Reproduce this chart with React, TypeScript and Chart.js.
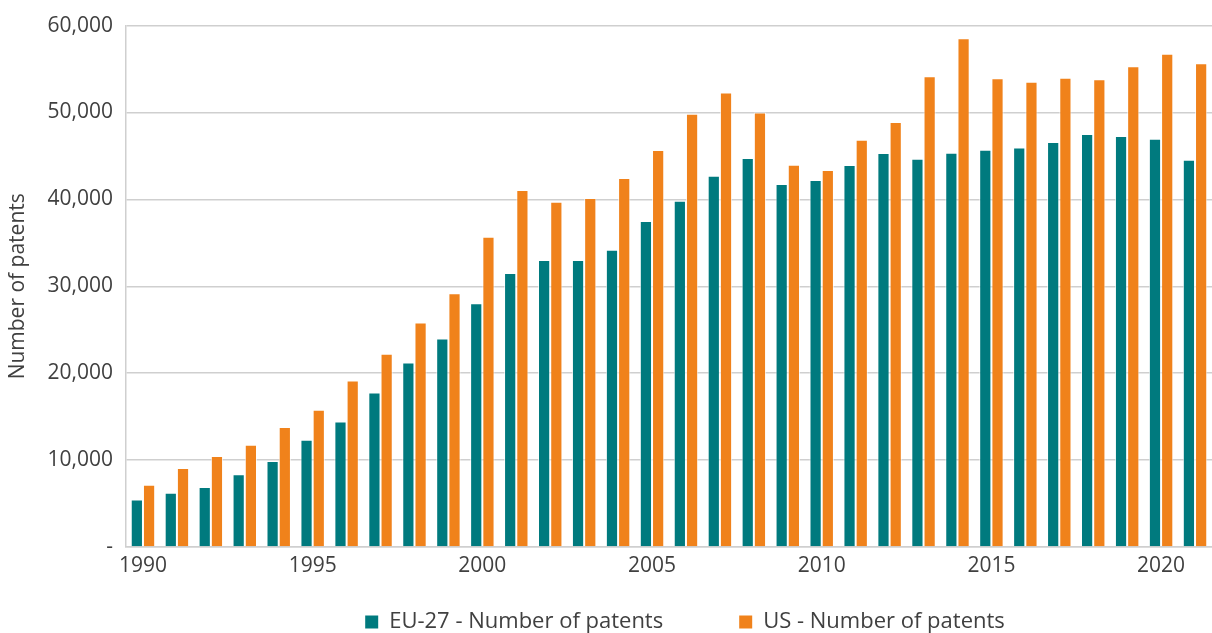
import React, { useEffect, useRef } from "react";
import { Chart, registerables } from "chart.js";

Chart.register(...registerables);

const years = [
  "1990", "1991", "1992", "1993", "1994", "1995", "1996", "1997", "1998", "1999",
  "2000", "2001", "2002", "2003", "2004", "2005", "2006", "2007", "2008", "2009",
  "2010", "2011", "2012", "2013", "2014", "2015", "2016", "2017", "2018", "2019",
  "2020", "2021",
];

const eu27Patents = [
  5480, 6250, 6900, 8360, 9890, 12340, 14450, 17780, 21230, 23990,
  28050, 31540, 33030, 33030, 34220, 37520, 39850, 42720, 44760, 41770,
  42230, 43950, 45330, 44680, 45370, 45710, 45980, 46600, 47520, 47290,
  46980, 44560,
];

const usPatents = [
  7170, 9080, 10460, 11770, 13800, 15790, 19160, 22230, 25830, 29200,
  35710, 41080, 39740, 40160, 42460, 45680, 49850, 52300, 50000, 43990,
  43380, 46860, 48900, 54180, 58550, 53950, 53530, 53990, 53840, 55330,
  56750, 55680,
];

const seriesLabels = ["EU-27 - Number of patents", "US - Number of patents"];
const yTicks = [0, 10000, 20000, 30000, 40000, 50000, 60000];

const FONT = "'Open Sans', 'Noto Sans', sans-serif";
const TEXT = "#404040";
const GRID = "#cfcfcf";

export default function App() {
  const ref = useRef<HTMLCanvasElement | null>(null);

  useEffect(() => {
    if (!ref.current) return;
    const legendShift = {
      id: "legendShift",
      afterLayout(chart: any) {
        const l = chart.legend;
        if (l) {
          l.top += 10;
          l.bottom += 10;
          l.left += 16;
          l.right += 16;
        }
      },
    };
    const chart = new Chart(ref.current, {
      type: "bar",
      data: {
        labels: years,
        datasets: [
          {
            label: seriesLabels[0],
            data: eu27Patents,
            backgroundColor: "#007a7e",
            borderColor: "rgba(255,255,255,0.7)",
            borderWidth: 1,
            categoryPercentage: 0.72,
            barPercentage: 1.0,
          },
          {
            label: seriesLabels[1],
            data: usPatents,
            backgroundColor: "#f0821b",
            borderColor: "rgba(255,255,255,0.7)",
            borderWidth: 1,
            categoryPercentage: 0.72,
            barPercentage: 1.0,
          },
        ],
      },
      options: {
        animation: false,
        responsive: true,
        maintainAspectRatio: false,
        layout: { padding: { top: 25, right: 0, bottom: 0, left: 0 } },
        plugins: {
          tooltip: { enabled: false },
          legend: {
            position: "bottom",
            fullSize: false,
            labels: {
              font: { family: FONT, size: 22 },
              color: TEXT,
              boxWidth: 13,
              boxHeight: 13,
              padding: 10,
              generateLabels(chart: any) {
                const items = Chart.defaults.plugins.legend.labels.generateLabels(chart);
                items.forEach((it: any, i: number) => {
                  it.lineWidth = 0;
                  if (i === 0) it.text = it.text + "\u2003\u2003\u2003";
                });
                return items;
              },
            },
          },
        },
        scales: {
          x: {
            grid: { display: false, drawTicks: false },
            border: { display: true, color: GRID, width: 1.5 },
            ticks: {
              autoSkip: false,
              maxRotation: 0,
              padding: 6,
              color: TEXT,
              font: { family: FONT, size: 21 },
              callback: (_v: any, i: number) =>
                Number(years[i]) % 5 === 0 ? years[i] : "",
            },
            afterFit: (s: any) => {
              s.height = 44;
            },
          },
          y: {
            min: 0,
            max: 60000,
            afterBuildTicks: (s: any) => {
              s.ticks = yTicks.map((v) => ({ value: v }));
            },
            grid: { color: GRID, lineWidth: 1.5, drawTicks: false },
            border: { display: true, color: GRID, width: 1.5 },
            ticks: {
              padding: 13,
              color: TEXT,
              font: { family: FONT, size: 21 },
              callback: (v: any) =>
                Number(v) === 0 ? "-" : Number(v).toLocaleString("en-US"),
            },
            title: {
              display: true,
              text: "Number of patents",
              color: TEXT,
              font: { family: FONT, size: 21 },
              padding: { top: 5, bottom: 0 },
            },
            afterFit: (s: any) => {
              s.width = 126;
            },
          },
        },
      },
      plugins: [legendShift],
    });
    return () => chart.destroy();
  }, []);

  return (
    <div
      style={{
        position: "fixed",
        left: 0,
        top: 0,
        width: 1212,
        height: 633,
        background: "#ffffff",
      }}
    >
      <canvas ref={ref} />
    </div>
  );
}
